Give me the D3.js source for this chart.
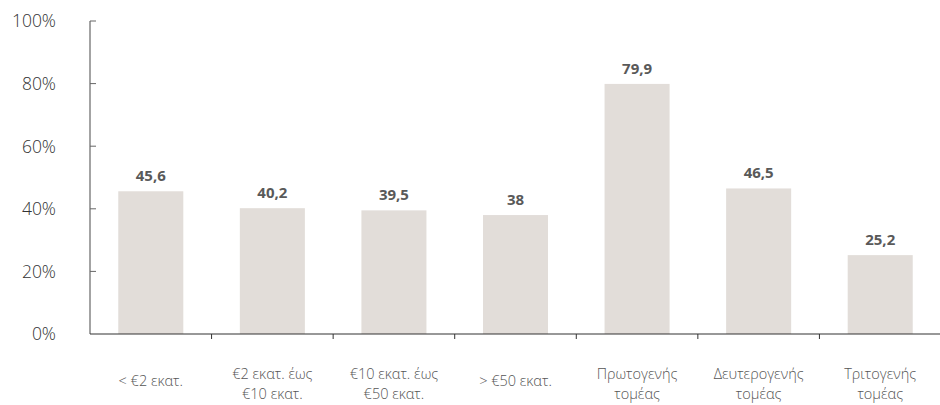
<!DOCTYPE html>
<html>
<head>
<meta charset="utf-8">
<script src="https://cdn.jsdelivr.net/npm/d3@7"></script>
<style>
  body { margin: 0; background: #fff; }
  text { font-family: "Open Sans", "Noto Sans", "DejaVu Sans", sans-serif; }
</style>
</head>
<body>
<div id="chart"></div>
<script>
// data
var categories = [
  ["< €2 εκατ."],
  ["€2 εκατ. έως", "€10 εκατ."],
  ["€10 εκατ. έως", "€50 εκατ."],
  ["> €50 εκατ."],
  ["Πρωτογενής", "τομέας"],
  ["Δευτερογενής", "τομέας"],
  ["Τριτογενής", "τομέας"]
]
var values = [45.6, 40.2, 39.5, 38, 79.9, 46.5, 25.2]
var yTicks = [0, 20, 40, 60, 80, 100]

var width = 940, height = 405
var x0 = 90, x1 = 941, y0 = 334, y1 = 21

var svg = d3.select("#chart").append("svg")
    .attr("width", width)
    .attr("height", height)

var x = d3.scaleBand()
    .domain(d3.range(values.length))
    .range([x0, x1])
    .paddingInner(0.465)
    .paddingOuter(0.2325)

var y = d3.scaleLinear().domain([0, 100]).range([y0, y1])

// bars
svg.selectAll(".bar")
    .data(values)
    .enter().append("rect")
    .attr("x", function (d, i) { return x(i) })
    .attr("y", function (d) { return y(d) })
    .attr("width", x.bandwidth())
    .attr("height", function (d) { return y0 - y(d) })
    .attr("fill", "#e2ddd9")

// value labels
svg.selectAll(".val")
    .data(values)
    .enter().append("text")
    .attr("x", function (d, i) { return x(i) + x.bandwidth() / 2 })
    .attr("y", function (d) { return y(d) - 10 })
    .attr("text-anchor", "middle")
    .attr("font-size", 15)
    .attr("font-weight", 700)
    .attr("fill", "#595959")
    .text(function (d) { return String(d).replace(".", ",") })

// y axis
svg.append("line")
    .attr("x1", x0).attr("x2", x0)
    .attr("y1", y1).attr("y2", y0)
    .attr("stroke", "#666").attr("stroke-width", 1.2)

svg.selectAll(".ytick")
    .data(yTicks.slice(1))
    .enter().append("line")
    .attr("x1", x0).attr("x2", x0 + 6)
    .attr("y1", function (d) { return y(d) })
    .attr("y2", function (d) { return y(d) })
    .attr("stroke", "#666")

svg.selectAll(".ylab")
    .data(yTicks)
    .enter().append("text")
    .attr("x", 56)
    .attr("y", function (d) { return y(d) })
    .attr("dy", "0.36em")
    .attr("text-anchor", "end")
    .attr("font-size", 17.5)
    .attr("font-weight", 300)
    .attr("fill", "#333")
    .text(function (d) { return d + "%" })

// x axis
svg.append("line")
    .attr("x1", x0).attr("x2", x1)
    .attr("y1", y0).attr("y2", y0)
    .attr("stroke", "#333").attr("stroke-width", 1.2)

var step = x.step()
svg.selectAll(".xtick")
    .data(d3.range(1, values.length))
    .enter().append("line")
    .attr("x1", function (d) { return x0 + d * step })
    .attr("x2", function (d) { return x0 + d * step })
    .attr("y1", y0).attr("y2", y0 + 5)
    .attr("stroke", "#333")

var labels = svg.selectAll(".xlab")
    .data(categories)
    .enter().append("text")
    .attr("text-anchor", "middle")
    .attr("font-size", 14.5)
    .attr("font-weight", 300)
    .attr("fill", "#555")
    .attr("transform", function (d, i) {
        var top = d.length == 1 ? 386 : 379
        return "translate(" + (x(i) + x.bandwidth() / 2) + "," + top + ")"
    })

labels.selectAll("tspan")
    .data(function (d) { return d })
    .enter().append("tspan")
    .attr("x", 0)
    .attr("dy", function (d, j) { return j == 0 ? 0 : 20 })
    .text(function (d) { return d })
</script>
</body>
</html>
